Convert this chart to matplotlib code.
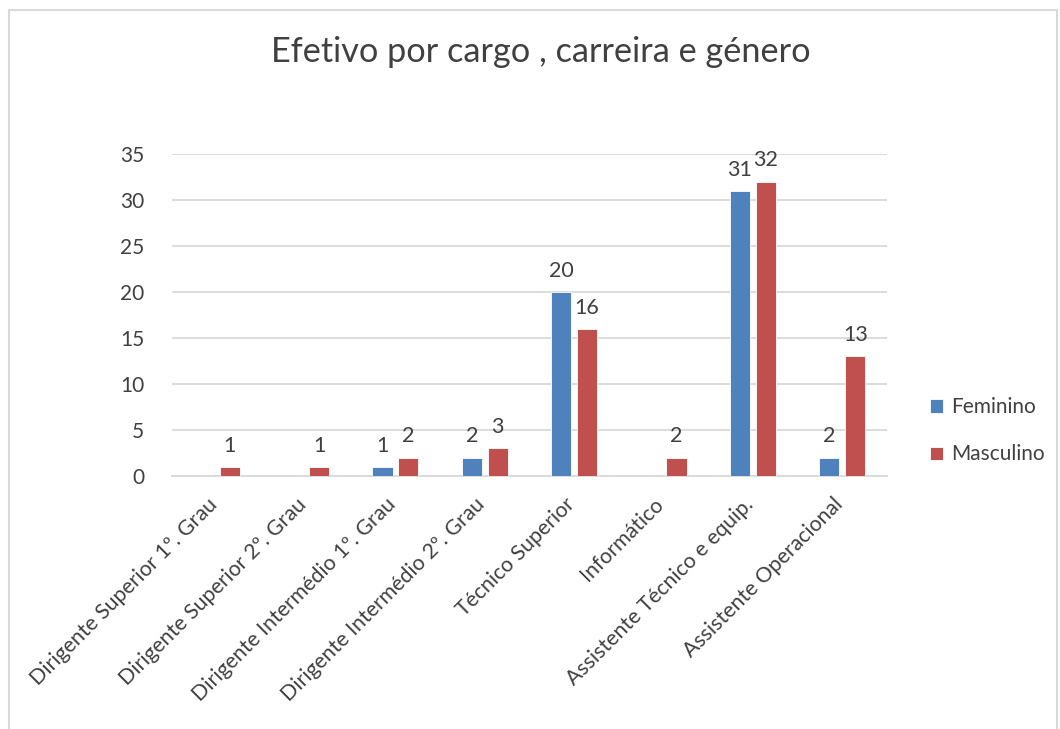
import matplotlib

matplotlib.use("Agg")
import matplotlib.pyplot as plt
import matplotlib.transforms as mtransforms
import numpy as np
from matplotlib.patches import Rectangle

plt.rcParams["font.family"] = ["Lato", "DejaVu Sans"]

CATEGORIES = [
    "Dirigente Superior 1º. Grau",
    "Dirigente Superior 2º. Grau",
    "Dirigente Intermédio 1º. Grau",
    "Dirigente Intermédio 2º. Grau",
    "Técnico Superior",
    "Informático",
    "Assistente Técnico e equip.",
    "Assistente Operacional",
]
FEMININO = [0, 0, 1, 2, 20, 0, 31, 2]
MASCULINO = [1, 1, 2, 3, 16, 2, 32, 13]
SERIES = ["Feminino", "Masculino"]

BLUE = "#4F81BD"
RED = "#C0504D"
GRID = "#D9D9D9"
TEXT = "#404040"

fig = plt.figure(figsize=(10.6, 7.29), dpi=100)
ax = fig.add_axes([172 / 1060, 1 - 476 / 729, (887 - 172) / 1060, (476 - 154) / 729])

# light frame round the chart (bottom edge falls outside the picture)
fig.patches.append(Rectangle((9 / 1060, -0.05), 1048 / 1060, 1.05 - 10 / 729,
                             transform=fig.transFigure, fill=False, edgecolor=GRID, linewidth=1.5))

x = np.arange(len(CATEGORIES))
width = 0.225
offset = 0.145
bars_f = ax.bar(x - offset, FEMININO, width, color=BLUE, edgecolor="white", linewidth=0.6, label=SERIES[0], zorder=3)
bars_m = ax.bar(x + offset, MASCULINO, width, color=RED, edgecolor="white", linewidth=0.6, label=SERIES[1], zorder=3)

for bars, values in ((bars_f, FEMININO), (bars_m, MASCULINO)):
    for bar, value in zip(bars, values):
        if value:
            ax.annotate(str(value), (bar.get_x() + bar.get_width() / 2, value), xytext=(0, 8),
                        textcoords="offset points", ha="center", va="bottom", fontsize=15.5, color=TEXT)

ax.set_xlim(-0.5, len(CATEGORIES) - 0.5)
ax.set_ylim(0, 35)
ax.set_yticks(range(0, 36, 5))
ax.yaxis.grid(True, color=GRID, linewidth=1.3, zorder=0)
for side in ("top", "right", "left"):
    ax.spines[side].set_visible(False)
ax.spines["bottom"].set_color(GRID)
ax.spines["bottom"].set_linewidth(1.3)
ax.tick_params(axis="both", length=0, labelsize=15, labelcolor=TEXT)
ax.tick_params(axis="y", pad=20)
ax.set_xticks(x)
ax.set_xticklabels(CATEGORIES, rotation=45, ha="right", rotation_mode="anchor", fontsize=15.3)
ax.tick_params(axis="x", pad=6)
shift = mtransforms.ScaledTranslation(-10 / 100, -10 / 100, fig.dpi_scale_trans)
for label in ax.get_xticklabels():
    label.set_transform(label.get_transform() + shift)

fig.text(541 / 1060, 1 - 52 / 729, "Efetivo por cargo , carreira e género", ha="center", va="center",
         fontsize=24.7, color=TEXT)

ax.legend(loc="center left", bbox_to_anchor=(1.034, 0.14), frameon=False, fontsize=15,
          handlelength=0.6, handleheight=0.6, handletextpad=0.4, labelspacing=1.3, labelcolor=TEXT)

fig.savefig("out.png", dpi=100, facecolor="white")
